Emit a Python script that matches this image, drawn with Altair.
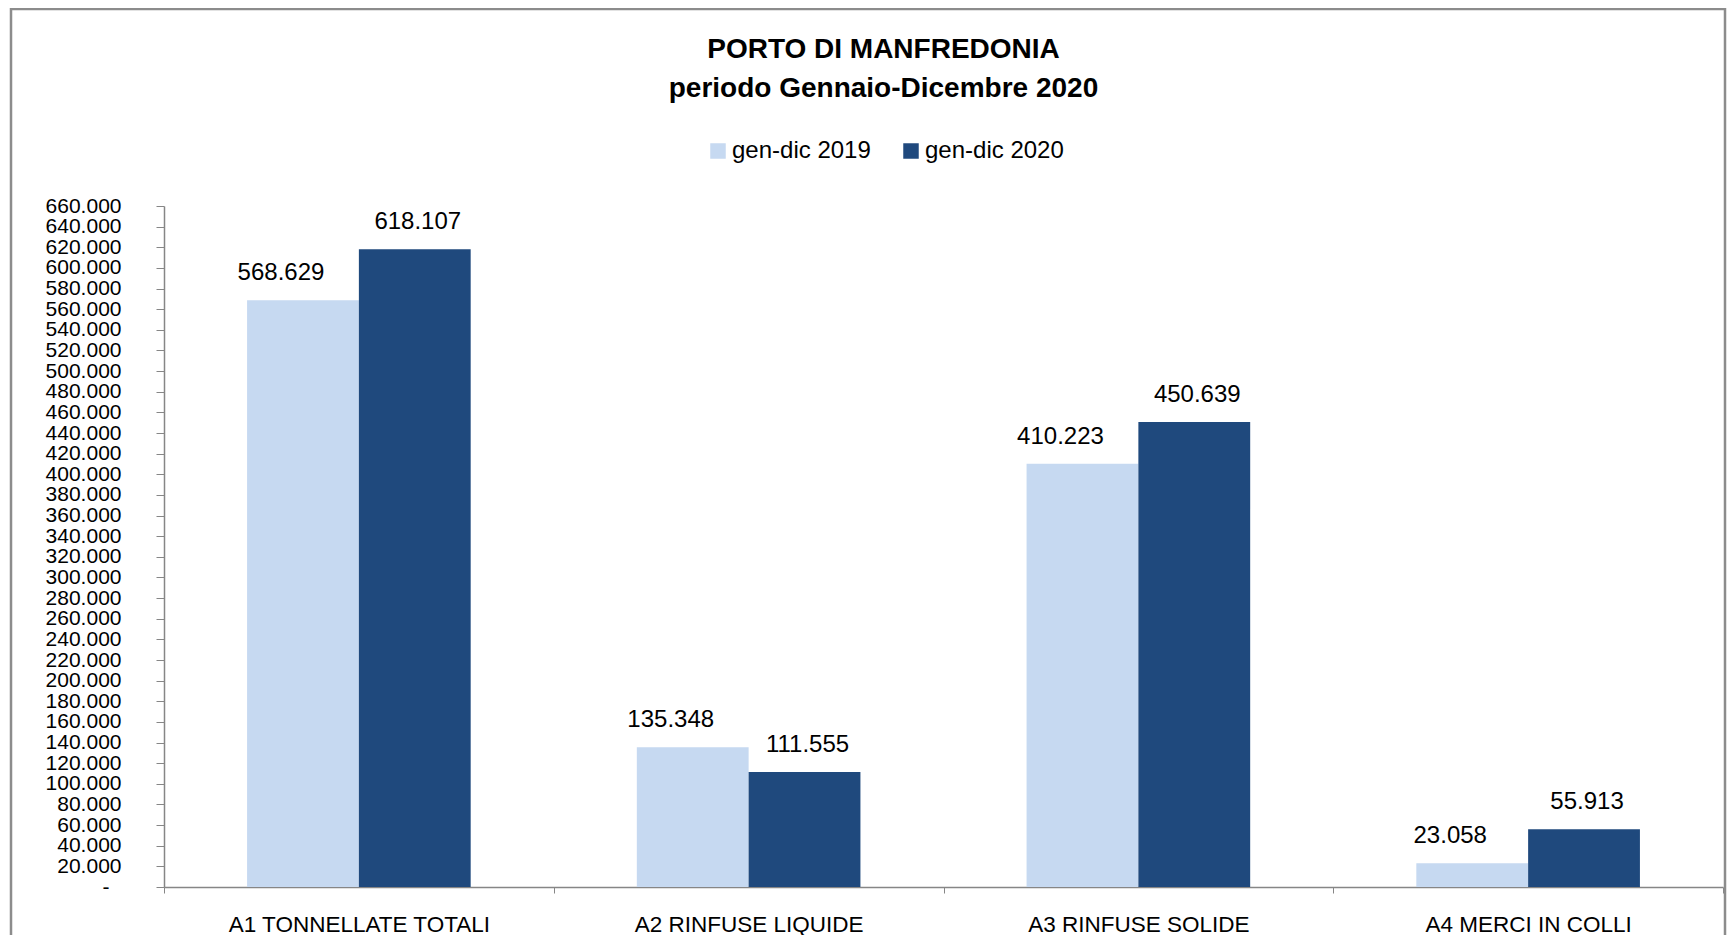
import altair as alt
import pandas as pd

# ---- data ----
categories = ["A1 TONNELLATE TOTALI", "A2 RINFUSE LIQUIDE", "A3 RINFUSE SOLIDE", "A4 MERCI IN COLLI"]
series = ["gen-dic 2019", "gen-dic 2020"]
values_2019 = [568629, 135348, 410223, 23058]
values_2020 = [618107, 111555, 450639, 55913]
y_ticks = list(range(0, 660001, 20000))
colors = ["#C6D9F1", "#1F497D"]
title_lines = ["PORTO DI MANFREDONIA", "periodo Gennaio-Dicembre 2020"]

rows = []
for c, a, b in zip(categories, values_2019, values_2020):
    rows.append({"category": c, "series": series[0], "value": a})
    rows.append({"category": c, "series": series[1], "value": b})
df = pd.DataFrame(rows)

W, H = 1559, 681
FONT = "Liberation Sans"
AXIS_GRAY = "#868686"

x_enc = alt.X(
    "category:N",
    sort=categories,
    scale=alt.Scale(paddingInner=0, paddingOuter=0),
    axis=alt.Axis(
        title=None, labelAngle=0, tickBand="extent", tickSize=6, labelLimit=0,
        tickColor=AXIS_GRAY, domainColor=AXIS_GRAY, domainWidth=1.5,
        labelFont=FONT, labelFontSize=22.5, labelColor="#000000", labelPadding=20,
    ),
)
xo_enc = alt.XOffset("series:N", sort=series, scale=alt.Scale(paddingInner=0, paddingOuter=0.743))
y_enc = alt.Y(
    "value:Q",
    scale=alt.Scale(domain=[0, 660000], nice=False, zero=True),
    axis=alt.Axis(
        title=None, grid=False, values=y_ticks, labelOverlap=False,
        labelExpr="datum.value == 0 ? '-' : replace(format(datum.value, ','), ',', '.')",
        tickSize=8, tickColor=AXIS_GRAY, domainColor=AXIS_GRAY, domainWidth=1.5,
        labelFont=FONT, labelFontSize=21, labelColor="#000000",
        labelPadding={"condition": {"test": "datum.value == 0", "value": 47}, "value": 35},
    ),
)

base = alt.Chart(df).transform_calculate(
    label="replace(format(datum.value, ','), ',', '.')"
)

bars = base.mark_bar().encode(
    x=x_enc,
    xOffset=xo_enc,
    y=y_enc,
    color=alt.Color(
        "series:N",
        sort=series,
        scale=alt.Scale(domain=series, range=colors),
        legend=alt.Legend(
            title=None, orient="none", direction="horizontal",
            legendX=542, legendY=-67, symbolType="square", symbolSize=240,
            symbolStrokeWidth=0, labelFont=FONT, labelFontSize=24,
            labelColor="#000000", columnPadding=28, labelOffset=2,
        ),
    ),
)

labels_2019 = base.transform_filter(alt.datum.series == series[0]).mark_text(
    dy=-27, dx=-22, baseline="middle", align="center", font=FONT, fontSize=24, color="#000000"
).encode(x=x_enc, xOffset=xo_enc, y=y_enc, text="label:N")

labels_2020 = base.transform_filter(alt.datum.series == series[1]).mark_text(
    dy=-27, dx=3, baseline="middle", align="center", font=FONT, fontSize=24, color="#000000"
).encode(x=x_enc, xOffset=xo_enc, y=y_enc, text="label:N")

frame = alt.Chart(pd.DataFrame({"k": [0]})).mark_rect(
    fill=None, stroke="#8C8C8C", strokeWidth=2.5
).encode(x=alt.value(-153), x2=alt.value(1561), y=alt.value(-197), y2=alt.value(H + 150))

chart = alt.layer(frame, bars, labels_2019, labels_2020).properties(
    width=W,
    height=H,
    autosize=alt.AutoSizeParams(type="none"),
    padding={"left": 156, "top": 198, "right": 4, "bottom": 48},
    title=alt.TitleParams(
        title_lines, font=FONT, fontSize=28, fontWeight="bold", color="#000000",
        anchor="middle", dx=-60, offset=0, dy=95, lineHeight=39,
    ),
).configure_view(stroke=None)

chart.save("out.html", embed_options={"renderer": "svg", "actions": False})
